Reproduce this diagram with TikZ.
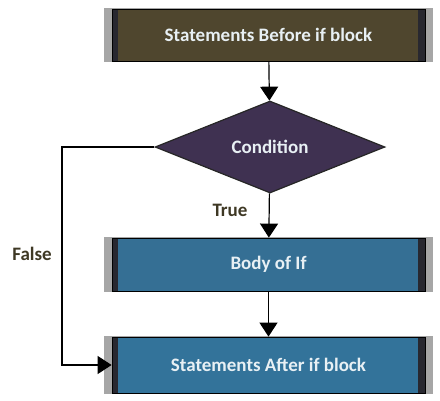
\documentclass[tikz,border=0pt]{standalone}
\usepackage{fontspec}
\setmainfont{Carlito}
\usepackage{tikz}
\usetikzlibrary{arrows, arrows.meta, shapes, positioning, backgrounds}
\definecolor{color_before}{RGB}{79,70,46}
\definecolor{color_cond}{RGB}{63,49,81}
\definecolor{color_body}{RGB}{53,111,148}
\definecolor{color_after}{RGB}{51,115,154}
\definecolor{color_edge}{RGB}{40,40,48}
\definecolor{color_label}{RGB}{62,56,36}
\definecolor{color_text}{RGB}{232,240,244}

\begin{document}
\begin{tikzpicture}[x=1pt, y=-1pt,
  block/.style={rectangle, draw=black, line width=0.8pt, minimum width=313pt,
    text=color_text, font=\bfseries\fontsize{19}{21}\selectfont,
    path picture={
      \fill[color_edge] (path picture bounding box.north west) rectangle ([xshift=6pt]path picture bounding box.south west);
      \fill[color_edge] ([xshift=-7pt]path picture bounding box.north east) rectangle (path picture bounding box.south east);
    }},
  decision/.style={diamond, draw=black!85, line width=1.2pt, inner sep=0pt,
    minimum width=230pt, minimum height=92pt,
    text=color_text, font=\bfseries\fontsize{19}{21}\selectfont},
  label/.style={text=color_label, font=\bfseries\fontsize{19}{21}\selectfont},
  halo/.style={fill=black, opacity=0.35},
  arr/.style={-{Triangle[width=18pt, length=14pt]}, line width=1.2pt, black}]

  \useasboundingbox (0,0) rectangle (440,400);

  % BLOQUES
  \node[block, fill=color_before, minimum height=52pt] (before) at (268.5,35) {Statements Before if block};
  \node[decision, fill=color_cond] (cond) at (270,147) {Condition};
  \node[block, fill=color_body, minimum height=53pt] (body) at (268.5,264.5) {Body of If};
  \node[block, fill=color_after, minimum height=56pt] (after) at (268.5,365) {Statements After if block};
  \coordinate (fbend) at (62,147);

  % SOMBRAS
  \begin{scope}[on background layer]
    \foreach \b in {before, body, after} {
      \fill[halo] ([xshift=-8pt, yshift=1pt]\b.north west) rectangle ([xshift=8pt, yshift=-1pt]\b.south east);
    }
  \end{scope}

  % FLECHAS
  \draw[arr] (before) -- (cond);
  \draw[arr] (cond) -- (body);
  \draw[arr] (body) -- (after);
  \draw[arr] (cond.west) -- (fbend) |- (after.west);

  % ETIQUETAS
  \node[label] (ltrue) at (230,210) {True};
  \node[label] (lfalse) at (32,254) {False};

\end{tikzpicture}
\end{document}
